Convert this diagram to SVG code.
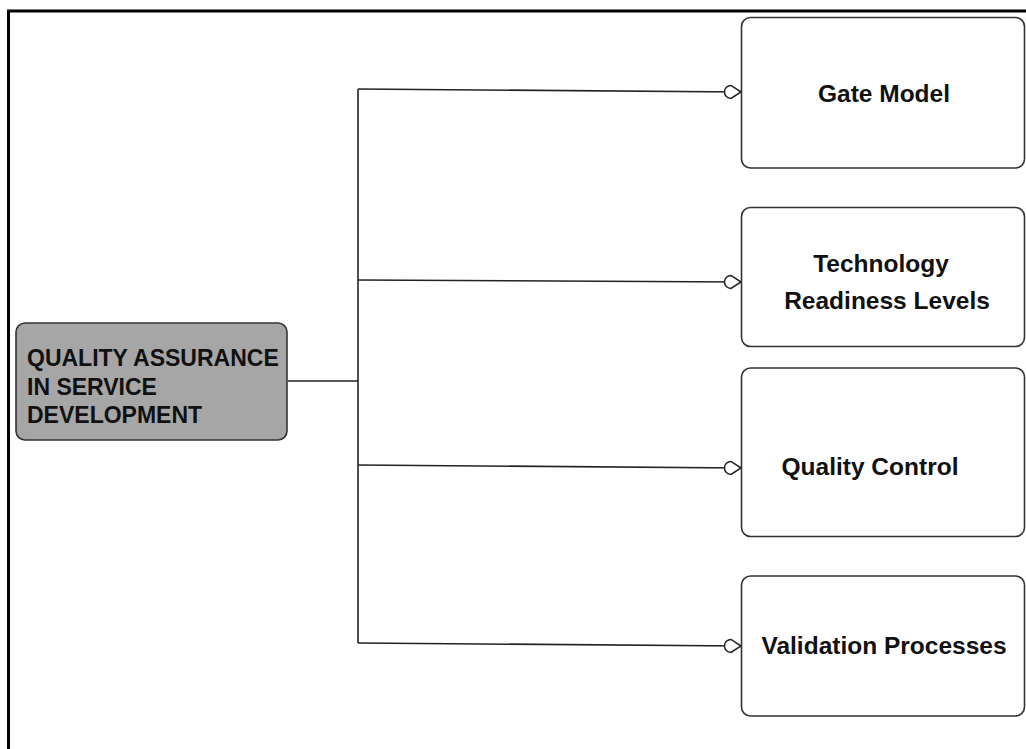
<svg xmlns="http://www.w3.org/2000/svg" width="1026" height="749" viewBox="0 0 1026 749">
<style>
.box{fill:#fff;stroke:#333;stroke-width:1.6}
.main{fill:#a6a6a6;stroke:#333;stroke-width:1.6}
.t{font-family:"Liberation Sans",Arial,sans-serif;font-weight:bold;font-size:23px;fill:#111}
.r{font-size:24.5px}
.c{stroke:#222;stroke-width:1.6;fill:none}
</style>
<defs>
<marker id="ah" markerUnits="userSpaceOnUse" markerWidth="24" markerHeight="18" refX="21" refY="9" orient="auto">
<path d="M21,9 L11,2.5 A6.5,6.5 0 0 0 11,15.5 Z" fill="#fff" stroke="#222" stroke-width="1.5"/>
</marker>
</defs>
<rect x="0" y="0" width="1026" height="749" fill="#fff"/>
<path d="M8.5,749 V11 H1026" fill="none" stroke="#000" stroke-width="3"/>
<g id="connectors">
<path class="c" d="M288,381 H358"/>
<path class="c" d="M358,89 V643"/>
<path class="c" d="M358,89 L741,92" marker-end="url(#ah)"/>
<path class="c" d="M358,280 L741,282" marker-end="url(#ah)"/>
<path class="c" d="M358,465 L741,468" marker-end="url(#ah)"/>
<path class="c" d="M358,643 L741,646" marker-end="url(#ah)"/>
</g>
<g id="main">
<rect class="main" x="16" y="323" width="271" height="117" rx="9"/>
<text class="t" x="27" y="366">QUALITY ASSURANCE</text>
<text class="t" x="27" y="394.5">IN SERVICE</text>
<text class="t" x="27" y="423">DEVELOPMENT</text>
</g>
<g id="gate">
<rect class="box" x="741.5" y="17.5" width="283" height="150.5" rx="9"/>
<text class="t r" x="884" y="102" text-anchor="middle">Gate Model</text>
</g>
<g id="trl">
<rect class="box" x="741.5" y="207.5" width="283" height="139" rx="9"/>
<text class="t r" x="881" y="272" text-anchor="middle">Technology</text>
<text class="t r" x="887" y="308.5" text-anchor="middle">Readiness Levels</text>
</g>
<g id="qc">
<rect class="box" x="741.5" y="368" width="283" height="168.5" rx="9"/>
<text class="t r" x="870" y="475" text-anchor="middle">Quality Control</text>
</g>
<g id="vp">
<rect class="box" x="741.5" y="576" width="283" height="140" rx="9"/>
<text class="t r" x="884" y="654" text-anchor="middle">Validation Processes</text>
</g>
</svg>
